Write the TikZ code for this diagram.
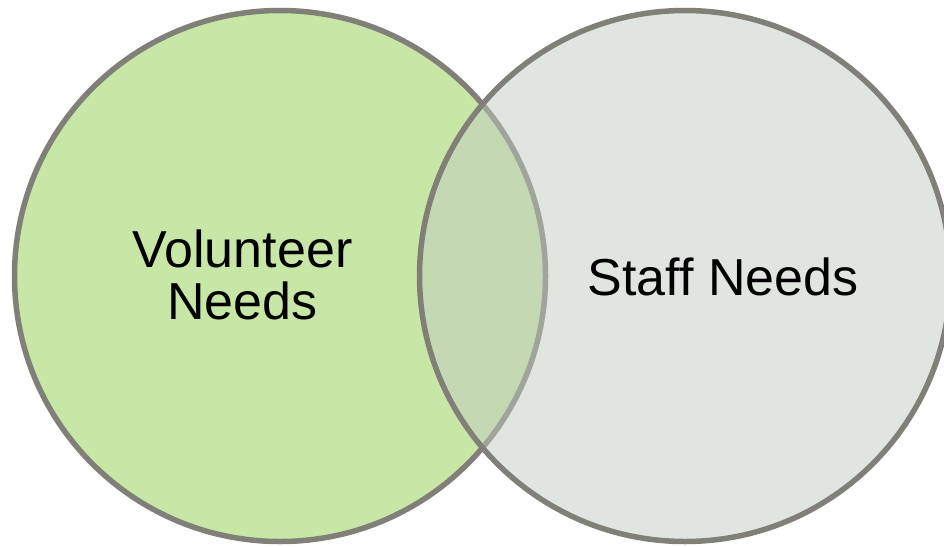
\documentclass[tikz,border=0pt]{standalone}
\usepackage{fontspec}
\setmainfont{Liberation Sans}
\definecolor{volgreen}{RGB}{200,230,165}
\definecolor{staffgray}{RGB}{193,203,193}
\definecolor{rimgray}{RGB}{128,128,120}
\tikzset{
    SET/.style ={circle, minimum size=531pt, inner sep=0pt, draw=rimgray, line width=5.5pt},
    LAB/.style ={align=center, inner sep=0pt, font=\fontsize{52}{52}\selectfont}}

\begin{document}
\begin{tikzpicture}[x=1pt,y=-1pt]
        \useasboundingbox (0,0) rectangle (944,546);
        \clip (0,0) rectangle (944,546);
        \node[SET, fill=volgreen] (vol) at (280,276){};
        \node[SET, fill=staffgray, fill opacity=0.5] (staff) at (685,276){};
        \node[LAB] (voltext) at (242.5,275){Volunteer\\Needs};
        \node[LAB] (stafftext) at (723,277){Staff Needs};
    \end{tikzpicture}
\end{document}
